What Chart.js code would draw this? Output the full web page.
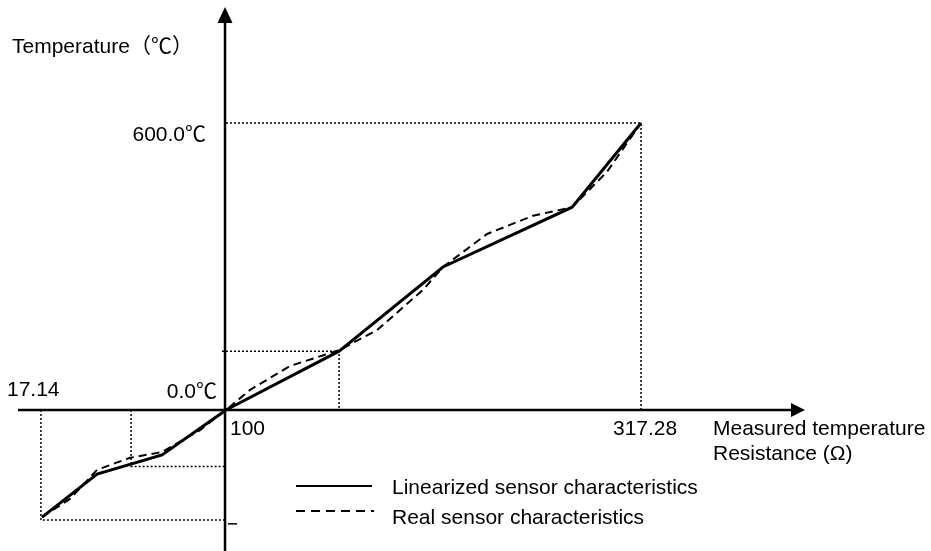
<!DOCTYPE html>
<html>
<head>
<meta charset="utf-8">
<script src="https://cdn.jsdelivr.net/npm/chart.js@4/dist/chart.umd.min.js"></script>
<style>
  body { margin: 0; background: #fff; }
  #wrap { width: 931px; height: 551px; }
</style>
</head>
<body>
<div id="wrap"><canvas id="chart" width="931" height="551"></canvas></div>
<script>
// linearized (solid) characteristic: resistance (schematic) vs temperature
const linR = [3.7, 32.5, 66.5, 100, 159.2, 213.6, 281.2, 317.28];
const linT = [-224, -134, -94, 0, 123, 299, 424, 600];
// real sensor (dashed)
const realR = [3.7, 18.3, 32.5, 49.7, 66.5, 86.4, 100, 112.6, 133.5, 159.2, 179.1, 203.1, 213.6, 236.7, 260.7, 281.2, 299.5, 317.28];
const realT = [-224, -186, -125, -100, -88, -42, 0, 42, 92, 125, 167, 251, 299, 368, 406, 424, 498, 600];
// dotted guide lines
const topGuideR = [100, 317.28, 317.28], topGuideT = [600, 600, 0];
const midGuideR = [97.9, 159.2, 159.2], midGuideT = [123, 123, 0];
const lowGuideR = [3.1, 3.1, 100], lowGuideT = [0, -230, -230];
const innerGuideR = [50.3, 50.3, 100], innerGuideT = [0, -118, -118];
const endTickR = [101, 105.8], endTickT = [-238, -238];

const yTitle = 'Temperature（℃）';
const xTitle = ['Measured temperature', 'Resistance (Ω)'];
const xTickLabels = ['17.14', '100', '317.28'];
const yTickLabels = ['600.0℃', '0.0℃'];
const seriesNames = ['Linearized sensor characteristics', 'Real sensor characteristics'];

const FONT = '21px "Liberation Sans", Arial, "Noto Sans CJK SC", sans-serif';
const pts = (xs, ys) => xs.map((v, i) => ({x: v, y: ys[i]}));
const guide = (xs, ys) => ({data: pts(xs, ys), borderColor: '#000', borderWidth: 1.5, borderDash: [2, 2], pointRadius: 0, showLine: true, fill: false});

const annot = {
  id: 'annot',
  beforeDatasetsDraw(chart) {
    const ctx = chart.ctx, xs = chart.scales.x, ys = chart.scales.y;
    const ox = xs.getPixelForValue(100), oy = ys.getPixelForValue(0);
    ctx.save();
    ctx.strokeStyle = '#000'; ctx.fillStyle = '#000'; ctx.lineWidth = 2.5;
    // y axis + arrow
    ctx.beginPath(); ctx.moveTo(ox - 1, 551); ctx.lineTo(ox - 1, 20); ctx.stroke();
    ctx.beginPath(); ctx.moveTo(ox - 1, 7); ctx.lineTo(ox - 8.5, 23); ctx.lineTo(ox + 6.5, 23); ctx.closePath(); ctx.fill();
    // x axis + arrow
    ctx.beginPath(); ctx.moveTo(18, oy); ctx.lineTo(795, oy); ctx.stroke();
    ctx.beginPath(); ctx.moveTo(805, oy); ctx.lineTo(791, oy - 7); ctx.lineTo(791, oy + 7); ctx.closePath(); ctx.fill();
    ctx.restore();
  },
  afterDatasetsDraw(chart) {
    const ctx = chart.ctx;
    ctx.save();
    ctx.font = FONT; ctx.fillStyle = '#000'; ctx.textBaseline = 'alphabetic';
    ctx.textAlign = 'left';
    ctx.fillText(yTitle, 12, 53);
    ctx.fillText(xTickLabels[0], 7, 396);
    ctx.fillText(xTickLabels[1], 230, 435);
    ctx.fillText(xTickLabels[2], 613, 435);
    ctx.fillText(xTitle[0], 713, 435);
    ctx.fillText(xTitle[1], 713, 460);
    ctx.textAlign = 'right';
    ctx.fillText(yTickLabels[0], 206, 141);
    ctx.fillText(yTickLabels[1], 217, 398);
    // legend
    ctx.textAlign = 'left';
    ctx.fillText(seriesNames[0], 392, 494);
    ctx.fillText(seriesNames[1], 392, 524);
    ctx.strokeStyle = '#000';
    ctx.lineWidth = 2.2;
    ctx.beginPath(); ctx.moveTo(296, 486); ctx.lineTo(372, 486); ctx.stroke();
    ctx.lineWidth = 1.8; ctx.setLineDash([9, 6]);
    ctx.beginPath(); ctx.moveTo(296, 511); ctx.lineTo(374, 511); ctx.stroke();
    ctx.restore();
  }
};

new Chart(document.getElementById('chart'), {
  type: 'scatter',
  data: {
    datasets: [
      guide(topGuideR, topGuideT),
      guide(midGuideR, midGuideT),
      guide(lowGuideR, lowGuideT),
      guide(innerGuideR, innerGuideT),
      {data: pts(endTickR, endTickT), borderColor: '#000', borderWidth: 1.5, pointRadius: 0, showLine: true},
      {label: seriesNames[1], data: pts(realR, realT), borderColor: '#000', borderWidth: 2, borderDash: [8, 5], pointRadius: 0, showLine: true},
      {label: seriesNames[0], data: pts(linR, linT), borderColor: '#000', borderWidth: 3, pointRadius: 0, showLine: true}
    ]
  },
  options: {
    responsive: false,
    animation: false,
    devicePixelRatio: 1,
    layout: {padding: 0},
    plugins: {legend: {display: false}, tooltip: {enabled: false}},
    scales: {
      x: {type: 'linear', display: false, min: -18.33, max: 469.1},
      y: {type: 'linear', display: false, min: -294.8, max: 857.1}
    }
  },
  plugins: [annot]
});
</script>
</body>
</html>
